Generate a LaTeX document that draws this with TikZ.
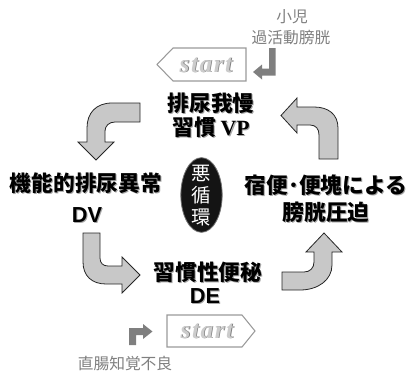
\documentclass[tikz,border=0pt]{standalone}
\usepackage{fontspec}
\usetikzlibrary{shapes.geometric}
\newfontfamily\cjk{Noto Sans CJK JP}
\newfontfamily\lsans{Liberation Sans}
\newfontfamily\lserif{Liberation Serif}
\newfontfamily\lserifbi[UprightFont={* Bold Italic}, LetterSpace=6]{Liberation Serif}
\definecolor{arrowfill}{HTML}{C8C8C8}
\definecolor{smallgray}{HTML}{7F7F7F}
\definecolor{startgray}{HTML}{9A9A9A}
\tikzset{
  lbl/.style={inner sep=0pt, align=center, font=\cjk\bfseries\fontsize{16.3}{20}\selectfont, text=black},
  lblshadow/.style={lbl, text=black!35},
  bigarrow/.style={fill=arrowfill, draw=black!85, line width=0.6pt, line join=miter},
  smalltext/.style={inner sep=0pt, font=\cjk\fontsize{11.8}{14}\selectfont, text=smallgray},
  startbox/.style={draw=startgray, line width=0.8pt, fill=white},
  starttext/.style={inner sep=0pt, font=\lserifbi\fontsize{19}{24}\selectfont},
  grayarrow/.style={fill=smallgray, draw=none},
  circtext/.style={inner sep=0pt, font=\cjk\fontsize{14.5}{16}\selectfont, text=white}
}
\newcommand{\lab}[3]{%
  \node[lblshadow, xshift=0.8pt, yshift=-0.8pt] (#1s) at (#2) {#3};
  \node[lbl] (#1) at (#2) {#3};}
\newcommand{\stxt}[2]{%
  \node[starttext, text=black!50, xshift=0.6pt, yshift=-0.6pt] (#1s) at (#2) {start};
  \node[starttext, text=black!20] (#1) at (#2) {start};}
\begin{document}
\begin{tikzpicture}[x=0.75pt, y=-0.75pt]
\useasboundingbox (0,0) rectangle (414,371);

% ---- small gray texts
\node[smalltext] (kid) at (292,17) {小児};
\node[smalltext] (oab) at (291,38) {過活動膀胱};
\node[smalltext] (rect) at (125,364) {直腸知覚不良};

% ---- top start box + arrow
\draw[startbox] (157,64.5) -- (173,48) -- (246,48) -- (246,81) -- (173,81) -- cycle;
\stxt{st1}{206,65}
\fill[grayarrow] (269,48) -- (275.5,48) -- (275.5,75.5) -- (262,75.5) -- (262,79.5)
  -- (253,72) -- (262,64.5) -- (262,68.5) -- (269,68.5) -- cycle;

% ---- bottom start box + arrow
\draw[startbox] (167,315) -- (242,315) -- (255,331) -- (242,347) -- (167,347) -- cycle;
\stxt{st2}{207,331}
\fill[grayarrow] (129,345) -- (129,328) -- (143,328) -- (143,324) -- (152.5,331.5)
  -- (143,339) -- (143,335) -- (136,335) -- (136,345) -- cycle;

% ---- labels
\lab{vp1}{211,103}{排尿我慢}
\lab{vp2}{211,127}{習慣 {\lserif\bfseries VP}}
\lab{dv1}{86,183}{機能的排尿異常}
\lab{dv2}{87,215}{{\lsans\bfseries DV}}
\lab{bp1}{326,185}{宿便･便塊による}
\lab{bp2}{326,212}{膀胱圧迫}
\lab{de1}{208,272}{習慣性便秘}
\lab{de2}{205,296}{{\lsans\bfseries DE}}

% ---- centre ellipse
\node[ellipse, minimum width=31pt, minimum height=56pt, inner sep=0pt,
  fill=black!92, draw=black!55, line width=0.6pt] (oval) at (201.5,195) {};
\node[circtext] (c1) at (201.5,173) {悪};
\node[circtext] (c2) at (201.5,195) {循};
\node[circtext] (c3) at (201.5,217) {環};

% ---- cycle arrows
% top-left: from right, bending down
\draw[bigarrow] (140,103) -- (112,103) .. controls (96,103) and (87,113) .. (87,128)
  -- (87,142) -- (78,142) -- (96,160) -- (114,142) -- (105,142) -- (105,131)
  .. controls (105,126) and (109,122) .. (115,122) -- (140,122) -- cycle;
% top-right: from bottom, bending left
\draw[bigarrow] (338,159) -- (338,128) .. controls (338,114) and (328,107) .. (314,107)
  -- (297,107) -- (297,98) -- (281,115.5) -- (297,133) -- (297,125) -- (310,125)
  .. controls (316,125) and (319,129) .. (319,135) -- (319,159) -- cycle;
% bottom-left: from top, bending right
\draw[bigarrow] (83,233) -- (83,262) .. controls (83,276) and (92,284) .. (106,284)
  -- (122,284) -- (122,293) -- (140,275) -- (122,257) -- (122,266) -- (108,266)
  .. controls (103,266) and (100,263) .. (100,258) -- (100,233) -- cycle;
% bottom-right: from left, bending up
\draw[bigarrow] (282,290) -- (300,290) .. controls (318,290) and (332,280) .. (332,265)
  -- (332,252) -- (342,252) -- (324,233) -- (306,252) -- (314,252) -- (314,262)
  .. controls (314,268) and (310,272) .. (304,272) -- (282,272) -- cycle;
\end{tikzpicture}
\end{document}
